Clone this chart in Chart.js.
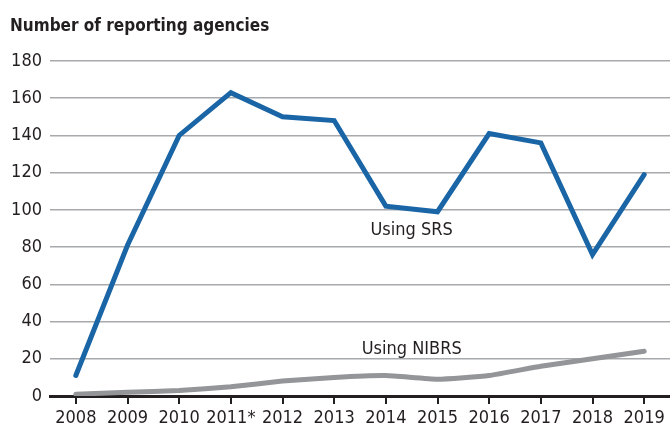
<!DOCTYPE html>
<html>
<head>
<meta charset="utf-8">
<script src="https://cdn.jsdelivr.net/npm/chart.js@4"></script>
<style>
  body { margin: 0; background: #fff; }
  #wrap { width: 670px; height: 430px; }
</style>
</head>
<body>
<div id="wrap"><canvas id="agencyChart" width="670" height="430"></canvas></div>
<script>
const years = ['2008', '2009', '2010', '2011*', '2012', '2013', '2014', '2015', '2016', '2017', '2018', '2019'];
const srsAgencies = [11, 81, 140, 163, 150, 148, 102, 99, 141, 136, 76, 119];
const nibrsAgencies = [1, 2, 3, 5, 8, 10, 11, 9, 11, 16, 20, 24];
const yTicks = [0, 20, 40, 60, 80, 100, 120, 140, 160, 180];
const chartTitle = 'Number of reporting agencies';
const seriesNotes = [
    {text: 'Using SRS', x: 6.5, y: 89},
    {text: 'Using NIBRS', x: 6.5, y: 25}
];

const fontFamily = "'DejaVu Sans Condensed', 'DejaVu Sans', sans-serif";
const ink = '#231f20';

// title and the two series labels are drawn by hand
const notePlugin = {
    id: 'seriesNotes',
    afterDatasetsDraw(chart) {
        const {ctx, scales: {x, y}} = chart;
        ctx.save();
        ctx.fillStyle = ink;
        ctx.textBaseline = 'middle';

        ctx.font = 'bold 17px ' + fontFamily;
        ctx.textAlign = 'left';
        ctx.fillText(chartTitle, 10, 27);

        ctx.font = '18px ' + fontFamily;
        ctx.textAlign = 'center';
        seriesNotes.forEach(function (n) {
            const left = x.getPixelForValue(Math.floor(n.x));
            const right = x.getPixelForValue(Math.ceil(n.x));
            const px = left + (right - left) * (n.x - Math.floor(n.x));
            ctx.fillText(n.text, px, y.getPixelForValue(n.y));
        });
        ctx.restore();
    }
};

new Chart(document.getElementById('agencyChart').getContext('2d'), {
    type: 'line',
    data: {
        labels: years,
        datasets: [
            {
                label: 'Using SRS',
                data: srsAgencies,
                borderColor: '#1a65a6',
                borderWidth: 5,
                pointRadius: 0,
                tension: 0,
                borderCapStyle: 'round',
                borderJoinStyle: 'miter'
            },
            {
                label: 'Using NIBRS',
                data: nibrsAgencies,
                borderColor: '#939598',
                borderWidth: 5,
                pointRadius: 0,
                tension: 0.15,
                borderCapStyle: 'round'
            }
        ]
    },
    options: {
        responsive: false,
        animation: false,
        layout: {padding: {left: 0, right: 0, top: 61, bottom: 0}},
        plugins: {
            legend: {display: false},
            tooltip: {enabled: false},
            title: {display: false}
        },
        scales: {
            x: {
                offset: true,
                grid: {display: true, drawOnChartArea: false, drawTicks: true, tickLength: 8, color: ink, lineWidth: 2},
                border: {display: true, color: ink, width: 3},
                ticks: {color: ink, font: {family: fontFamily, size: 18}, padding: 4, maxRotation: 0, autoSkip: false},
                afterFit(scale) { scale.height = 34; }
            },
            y: {
                min: 0,
                max: 180,
                afterBuildTicks(scale) { scale.ticks = yTicks.map(function (v) { return {value: v}; }); },
                grid: {color: '#a7a9ac', lineWidth: 1.5, drawTicks: false},
                border: {display: false},
                ticks: {color: ink, font: {family: fontFamily, size: 18}, padding: 8},
                afterFit(scale) { scale.width = 50; }
            }
        }
    },
    plugins: [notePlugin]
});
</script>
</body>
</html>
